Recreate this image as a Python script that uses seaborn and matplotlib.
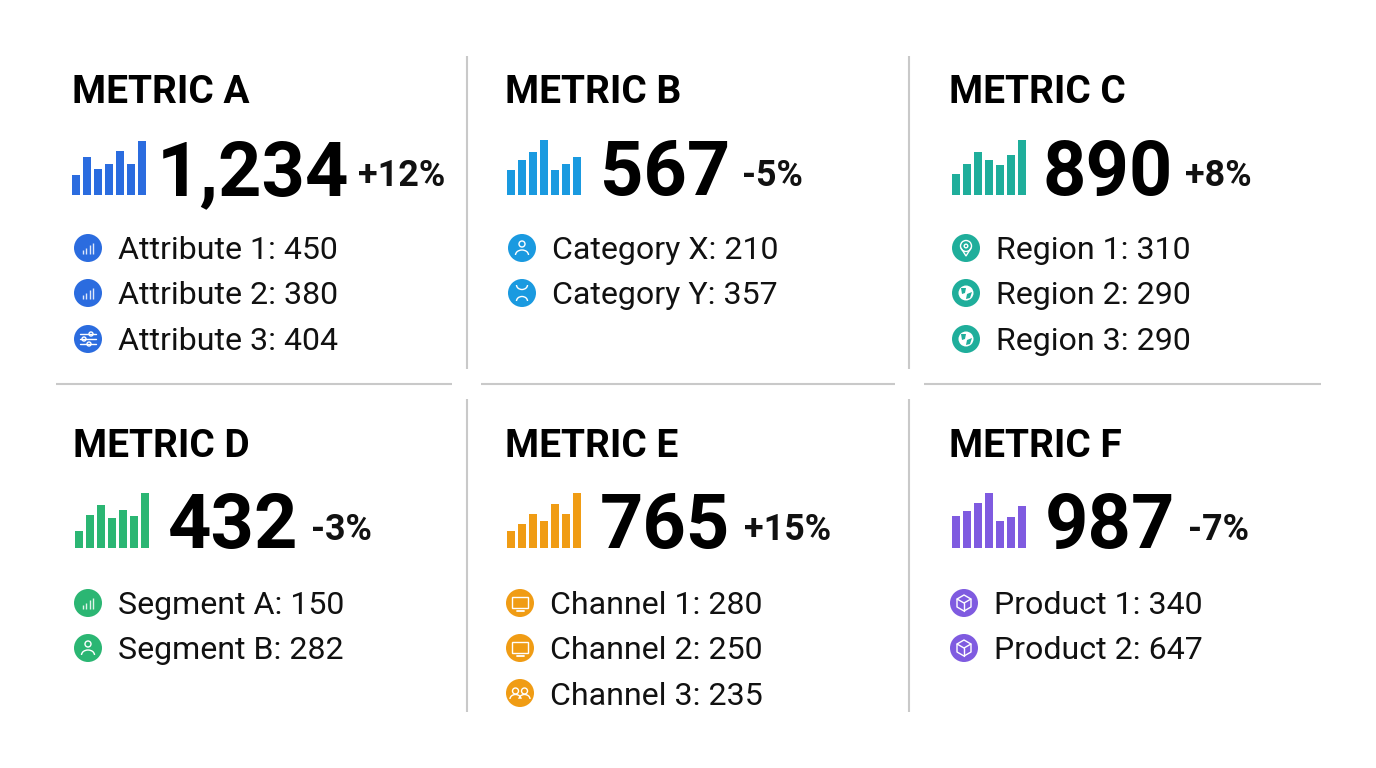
import matplotlib
matplotlib.use("Agg")
import matplotlib.pyplot as plt
from matplotlib.patches import Circle, Rectangle, Arc, Polygon
import seaborn as sns
import numpy as np

sns.set_theme(style="white")
plt.rcParams['font.family'] = ['Roboto', 'DejaVu Sans']

# values
metric_names = ['METRIC A', 'METRIC B', 'METRIC C', 'METRIC D', 'METRIC E', 'METRIC F']
metric_values = ['1,234', '567', '890', '432', '765', '987']
metric_deltas = ['+12%', '-5%', '+8%', '-3%', '+15%', '-7%']
colors = ['#2B6CDF', '#1A9AE0', '#1FAE9B', '#2BB673', '#F09C14', '#7F5BE0']

spark_a = [20, 38, 26, 31, 44, 31, 54]
spark_b = [25, 35, 43, 55, 25, 31, 38]
spark_c = [21, 31, 43, 35, 30, 40, 55]
spark_d = [17, 33, 43, 30, 38, 32, 55]
spark_e = [17, 24, 34, 27, 44, 34, 55]
spark_f = [32, 37, 45, 55, 27, 31, 42]
sparks = [spark_a, spark_b, spark_c, spark_d, spark_e, spark_f]

details = [
    ['Attribute 1: 450', 'Attribute 2: 380', 'Attribute 3: 404'],
    ['Category X: 210', 'Category Y: 357'],
    ['Region 1: 310', 'Region 2: 290', 'Region 3: 290'],
    ['Segment A: 150', 'Segment B: 282'],
    ['Channel 1: 280', 'Channel 2: 250', 'Channel 3: 235'],
    ['Product 1: 340', 'Product 2: 647'],
]
icons = [
    ['bars', 'bars', 'sliders'],
    ['person', 'person2'],
    ['pin', 'globe', 'globe'],
    ['bars', 'person'],
    ['monitor', 'monitor', 'group'],
    ['box', 'box'],
]

# layout in pixels
W, H = 1376, 768
title_x = [72, 505, 949, 73, 505, 949]
big_x = [157, 600, 1043, 168, 600, 1045]
delta_x = [358, 742, 1185, 311, 744, 1188]
spark_x = [72, 507, 952, 75, 507, 952]
circle_x = [88, 522, 966, 88, 520, 964]
text_x = [118.5, 552.5, 996.5, 118.5, 550.5, 994.5]
title_base = [103, 103, 103, 457, 457, 457]
big_base = [195, 195, 195, 548, 548, 548]
delta_base = [186, 186, 186, 540, 540, 540]
circle_y = [[248, 293, 339]] * 3 + [[603, 648, 693]] * 3
text_base = [[259, 304, 350]] * 3 + [[614, 659, 705]] * 3

fig = plt.figure(figsize=(W / 100, H / 100), dpi=100, facecolor='white')
ax = fig.add_axes([0, 0, 1, 1])
ax.set_xlim(0, W)
ax.set_ylim(H, 0)
ax.axis('off')

# separators
line_color = '#C9C9C9'
for x in [467, 909]:
    ax.plot([x, x], [56, 369], color=line_color, lw=1.5, solid_capstyle='butt')
    ax.plot([x, x], [399, 712], color=line_color, lw=1.5, solid_capstyle='butt')
for x0, x1 in [(56, 452), (481, 895), (924, 1321)]:
    ax.plot([x0, x1], [384, 384], color=line_color, lw=1.5, solid_capstyle='butt')


def draw_icon(kind, cx, cy, color):
    ax.add_patch(Circle((cx, cy), 14, fc=color, ec='none'))
    lw = 1.0
    c = 'white'
    if kind == 'bars':
        for dx, h in zip([-5, -1.7, 1.7, 5], [4, 6, 9, 11]):
            ax.plot([cx + dx, cx + dx], [cy + 5.5, cy + 5.5 - h], color=c, lw=lw, solid_capstyle='butt', alpha=0.85)
    elif kind == 'sliders':
        for dy, k in zip([-5, 0, 5], [3, -4, 1]):
            ax.plot([cx - 8, cx + 8], [cy + dy, cy + dy], color=c, lw=lw)
            ax.add_patch(Circle((cx + k, cy + dy), 2, fc=color, ec=c, lw=lw))
    elif kind == 'person':
        ax.add_patch(Circle((cx, cy - 4), 3, fc='none', ec=c, lw=lw))
        ax.add_patch(Arc((cx, cy + 7), 13, 10, theta1=180, theta2=360, ec=c, lw=lw))
    elif kind == 'person2':
        ax.add_patch(Arc((cx, cy - 8), 11, 9, theta1=0, theta2=180, ec=c, lw=lw))
        ax.add_patch(Arc((cx, cy + 8), 11, 9, theta1=180, theta2=360, ec=c, lw=lw))
    elif kind == 'pin':
        ax.add_patch(Circle((cx, cy - 2), 5.5, fc='none', ec=c, lw=lw))
        ax.add_patch(Polygon([[cx - 5, cy], [cx, cy + 8], [cx + 5, cy]], closed=False, fc='none', ec=c, lw=lw))
        ax.add_patch(Circle((cx, cy - 2), 1.8, fc='none', ec=c, lw=lw))
    elif kind == 'globe':
        ax.add_patch(Circle((cx, cy), 7.5, fc=c, ec='none'))
        ax.add_patch(Polygon([[cx - 5, cy - 5], [cx, cy - 5], [cx - 1, cy], [cx - 4, cy + 1]], fc=color, ec='none'))
        ax.add_patch(Polygon([[cx + 1, cy + 1], [cx + 6, cy - 1], [cx + 4, cy + 5], [cx, cy + 6]], fc=color, ec='none'))
    elif kind == 'monitor':
        ax.add_patch(Rectangle((cx - 8, cy - 6), 16, 11, fc='none', ec=c, lw=lw))
        ax.plot([cx - 3.5, cx + 3.5], [cy + 7.5, cy + 7.5], color=c, lw=lw + 0.3)
    elif kind == 'group':
        for dx in [-4.5, 4.5]:
            ax.add_patch(Circle((cx + dx, cy - 2), 3, fc='none', ec=c, lw=lw))
            ax.add_patch(Arc((cx + dx, cy + 6), 11, 9, theta1=180, theta2=360, ec=c, lw=lw))
    elif kind == 'box':
        top = [[cx, cy - 8], [cx + 7, cy - 4], [cx, cy], [cx - 7, cy - 4]]
        ax.add_patch(Polygon(top, fc='none', ec=c, lw=lw))
        ax.plot([cx - 7, cx - 7, cx, cx + 7, cx + 7], [cy - 4, cy + 4, cy + 8, cy + 4, cy - 4], color=c, lw=lw)
        ax.plot([cx, cx], [cy, cy + 8], color=c, lw=lw)


for i in range(6):
    color = colors[i]
    ax.text(title_x[i], title_base[i], metric_names[i], fontsize=28, fontweight='bold',
            color='black', va='baseline', ha='left')
    ax.text(big_x[i], big_base[i], metric_values[i], fontsize=54.5, fontweight='bold',
            color='black', va='baseline', ha='left')
    ax.text(delta_x[i], delta_base[i], metric_deltas[i], fontsize=25.8, fontweight='bold',
            color='#111111', va='baseline', ha='left')

    # small bar chart next to the number
    bottom = big_base[i]
    sub = fig.add_axes([spark_x[i] / W, 1 - bottom / H, 74 / W, 55 / H])
    sns.barplot(x=list(range(len(sparks[i]))), y=sparks[i], color=color, saturation=1,
                width=0.7, linewidth=0, ax=sub)
    sub.set_xlim(-0.35, 6.35)
    sub.set_ylim(0, 55)
    sub.axis('off')

    for j, label in enumerate(details[i]):
        draw_icon(icons[i][j], circle_x[i], circle_y[i][j], color)
        ax.text(text_x[i], text_base[i][j], label, fontsize=23.1, color='#111111',
                va='baseline', ha='left')

fig.savefig('out.png', dpi=100, facecolor='white')
